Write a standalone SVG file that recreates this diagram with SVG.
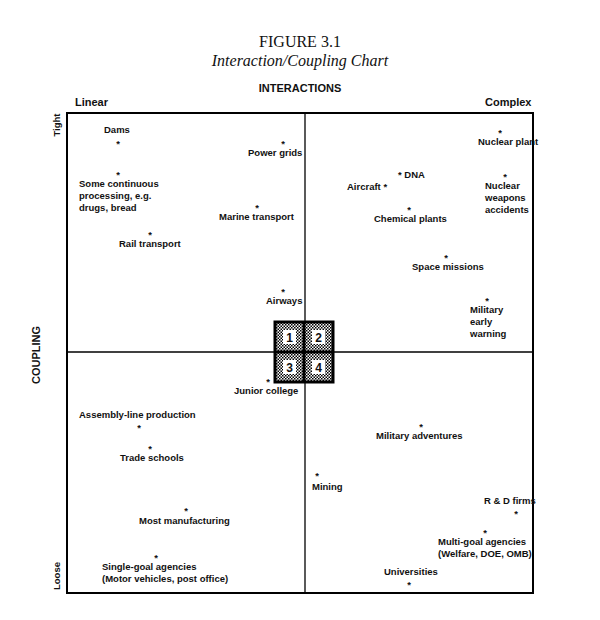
<svg xmlns="http://www.w3.org/2000/svg" width="600" height="620" viewBox="0 0 600 620">
<defs>
<pattern id="dots" width="3" height="3" patternUnits="userSpaceOnUse"><rect width="3" height="3" fill="#fff"/><rect width="1.5" height="1.5" fill="#000"/><rect x="1.5" y="1.5" width="1.5" height="1.5" fill="#000"/></pattern>
</defs>
<style>
text{font-family:"Liberation Sans",Arial,sans-serif;font-size:9.5px;font-weight:bold;fill:#111}
.t{font-family:"Liberation Serif","Times New Roman",serif;font-size:16px;font-weight:normal}
.ti{font-family:"Liberation Serif","Times New Roman",serif;font-size:16px;font-weight:normal;font-style:italic}
.s{font-size:12px;font-weight:bold}
.m{text-anchor:middle}
</style>
<rect width="600" height="620" fill="#fff"/>
<text class="t m" x="300" y="47">FIGURE 3.1</text>
<text class="ti m" x="300" y="66">Interaction/Coupling Chart</text>
<text class="m" x="300" y="92" style="font-size:11px">INTERACTIONS</text>
<text x="75" y="106" style="font-size:11px">Linear</text>
<text x="485" y="106" style="font-size:11px">Complex</text>
<text class="m" transform="translate(40,355) rotate(-90)" style="font-size:11px">COUPLING</text>
<text class="m" transform="translate(60,125) rotate(-90)">Tight</text>
<text class="m" transform="translate(60,576) rotate(-90)">Loose</text>
<g id="connectors" stroke="#000" fill="none">
<rect x="67" y="113" width="466" height="480" stroke-width="2"/>
<line x1="305" y1="113" x2="305" y2="593" stroke-width="1.3"/>
<line x1="67" y1="352" x2="533" y2="352" stroke-width="1.3"/>
</g>
<g id="quadrants">
<rect x="275" y="322" width="58" height="60" fill="url(#dots)" stroke="#000" stroke-width="3"/>
<line x1="304" y1="322" x2="304" y2="382" stroke="#000" stroke-width="3"/>
<line x1="275" y1="352" x2="333" y2="352" stroke="#000" stroke-width="3"/>
<rect x="283" y="330" width="13" height="14" fill="#fff"/><rect x="312" y="330" width="13" height="14" fill="#fff"/>
<rect x="283" y="360" width="13" height="14" fill="#fff"/><rect x="312" y="360" width="13" height="14" fill="#fff"/>
<text class="s m" x="289.5" y="342">1</text><text class="s m" x="318.5" y="342">2</text>
<text class="s m" x="289.5" y="372">3</text><text class="s m" x="318.5" y="372">4</text>
</g>
<g id="dams"><text x="104" y="133">Dams</text><text class="m" x="118" y="147">*</text></g>
<g id="powergrids"><text class="m" x="283" y="147">*</text><text x="248" y="156">Power grids</text></g>
<g id="continuous"><text class="m" x="118" y="178">*</text><text x="79" y="187">Some continuous</text><text x="79" y="199">processing, e.g.</text><text x="79" y="211">drugs, bread</text></g>
<g id="marine"><text class="m" x="257" y="211">*</text><text x="219" y="220">Marine transport</text></g>
<g id="rail"><text class="m" x="150" y="238">*</text><text x="119" y="247">Rail transport</text></g>
<g id="airways"><text class="m" x="283" y="295">*</text><text x="266" y="304">Airways</text></g>
<g id="nuclearplant"><text class="m" x="500" y="136">*</text><text x="478" y="145">Nuclear plant</text></g>
<g id="dna"><text x="398" y="178">* DNA</text></g>
<g id="aircraft"><text x="347" y="190">Aircraft *</text></g>
<g id="nuclearweapons"><text class="m" x="505" y="180">*</text><text x="485" y="189">Nuclear</text><text x="485" y="201">weapons</text><text x="485" y="213">accidents</text></g>
<g id="chemical"><text class="m" x="409" y="213">*</text><text x="374" y="222">Chemical plants</text></g>
<g id="space"><text class="m" x="446" y="261">*</text><text x="412" y="270">Space missions</text></g>
<g id="military"><text class="m" x="487" y="304">*</text><text x="470" y="313">Military</text><text x="470" y="325">early</text><text x="470" y="337">warning</text></g>
<g id="juniorcollege"><text class="m" x="268" y="385">*</text><text x="234" y="394">Junior college</text></g>
<g id="assembly"><text x="79" y="418">Assembly-line production</text><text class="m" x="139" y="431">*</text></g>
<g id="adventures"><text class="m" x="421" y="430">*</text><text x="376" y="439">Military adventures</text></g>
<g id="trade"><text class="m" x="150" y="452">*</text><text x="120" y="461">Trade schools</text></g>
<g id="mining"><text class="m" x="317" y="479">*</text><text x="312" y="490">Mining</text></g>
<g id="rnd"><text x="484" y="504">R &amp; D firms</text><text class="m" x="516" y="517">*</text></g>
<g id="manufacturing"><text class="m" x="186" y="514">*</text><text x="139" y="524">Most manufacturing</text></g>
<g id="multigoal"><text class="m" x="485" y="536">*</text><text x="438" y="545">Multi-goal agencies</text><text x="438" y="557">(Welfare, DOE, OMB)</text></g>
<g id="singlegoal"><text class="m" x="156" y="561">*</text><text x="102" y="570">Single-goal agencies</text><text x="102" y="582">(Motor vehicles, post office)</text></g>
<g id="universities"><text x="384" y="575">Universities</text><text class="m" x="409" y="588">*</text></g>
</svg>
